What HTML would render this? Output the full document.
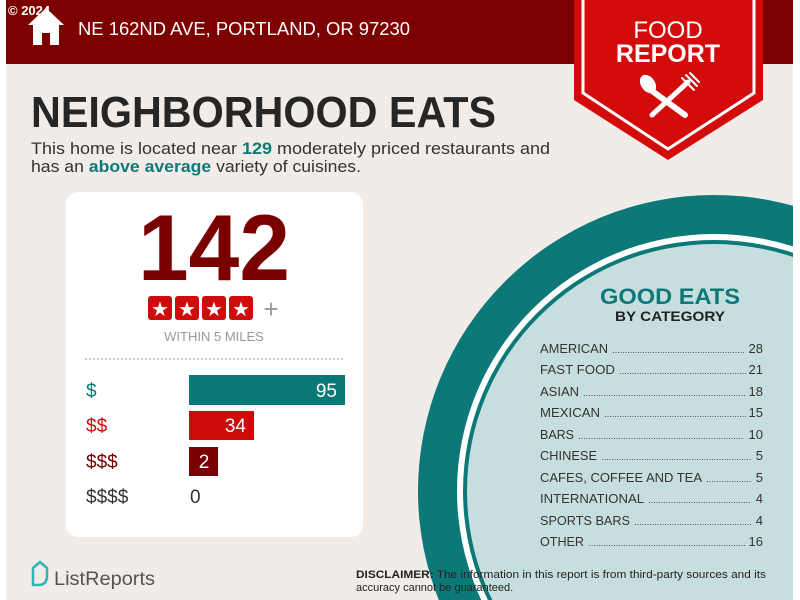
<!DOCTYPE html>
<html><head><meta charset="utf-8"><style>
html,body{margin:0;padding:0;background:#fff;width:800px;height:600px;overflow:hidden}
svg{display:block}
text{font-family:"Liberation Sans",sans-serif}
</style></head><body>
<svg width="800" height="600" viewBox="0 0 800 600" xmlns="http://www.w3.org/2000/svg">
<defs><clipPath id="c"><rect x="6" y="0" width="787" height="600"/></clipPath></defs>
<rect x="6" y="0" width="787" height="600" fill="#f1ece8"/>
<rect x="6" y="0" width="787" height="64" fill="#7d0000"/>
<g clip-path="url(#c)">
<circle cx="714" cy="491" r="296" fill="#0d7878"/>
<circle cx="714" cy="491" r="257" fill="#fff"/>
<circle cx="714" cy="491" r="251" fill="#0d7878"/>
<circle cx="714" cy="491" r="247" fill="#c6dfde"/>
</g>
<!-- header -->
<text x="8" y="15" fill="#fff" font-size="13" font-weight="bold">© 2024</text>
<path d="M46 8 L28 25 L33 25 L33 45 L59 45 L59 25 L64 25 Z" fill="#fff"/>
<rect x="42" y="33" width="8" height="12" fill="#7d0000"/>
<text x="78" y="35" fill="#fff" font-size="18" textLength="332" lengthAdjust="spacingAndGlyphs">NE 162ND AVE, PORTLAND, OR 97230</text>
<!-- ribbon -->
<polygon points="574,0 763,0 763,100 668,160 574,100" fill="#d40b0b"/>
<polyline points="583,0 583,93 668,149 754,93 754,0" fill="none" stroke="#fff" stroke-width="3"/>
<text x="668" y="38" fill="#fff" font-size="24" text-anchor="middle">FOOD</text>
<text x="668" y="62" fill="#fff" font-size="25" font-weight="bold" text-anchor="middle">REPORT</text>
<g stroke="#fff" stroke-linecap="round" fill="#fff">
<line x1="648" y1="88" x2="685" y2="115" stroke-width="6"/>
<ellipse cx="648" cy="84" rx="7" ry="10" transform="rotate(-35 648 84)" stroke="none"/>
<line x1="688" y1="82" x2="652" y2="115" stroke-width="5"/>
<path d="M682 78 L694 90 M686 75 L697 86 M690 73 L699 82" stroke-width="2"/>
</g>
<!-- title -->
<text x="31" y="127" fill="#262626" font-size="44" font-weight="bold" textLength="465" lengthAdjust="spacingAndGlyphs">NEIGHBORHOOD EATS</text>
<text x="31" y="154" fill="#333" font-size="17" textLength="519" lengthAdjust="spacingAndGlyphs">This home is located near <tspan fill="#0d7a7a" font-weight="bold">129</tspan> moderately priced restaurants and</text>
<text x="31" y="172" fill="#333" font-size="17" textLength="330" lengthAdjust="spacingAndGlyphs">has an <tspan fill="#0d7a7a" font-weight="bold">above average</tspan> variety of cuisines.</text>
<!-- card -->
<rect x="66" y="192" width="297" height="345" rx="12" fill="#fff"/>
<text x="214" y="280" fill="#7a0000" font-size="94" font-weight="bold" text-anchor="middle" textLength="152" lengthAdjust="spacingAndGlyphs">142</text>
<g fill="#d00b0b">
<rect x="148" y="296" width="24" height="24" rx="3"/><rect x="175" y="296" width="24" height="24" rx="3"/><rect x="202" y="296" width="24" height="24" rx="3"/><rect x="229" y="296" width="24" height="24" rx="3"/>
</g>
<g fill="#fff" font-size="20" text-anchor="middle"><text x="160" y="316">★</text><text x="187" y="316">★</text><text x="214" y="316">★</text><text x="241" y="316">★</text></g>
<text x="271" y="318" fill="#999" font-size="26" text-anchor="middle">+</text>
<text x="214" y="341" fill="#999" font-size="13" text-anchor="middle">WITHIN 5 MILES</text>
<line x1="85" y1="359" x2="345" y2="359" stroke="#999" stroke-width="1" stroke-dasharray="2,2"/>
<rect x="189" y="375" width="156" height="30" fill="#0b7878"/>
<rect x="189" y="411" width="65" height="29" fill="#cc0a0a"/>
<rect x="189" y="447" width="29" height="29" fill="#780000"/>
<g font-size="19">
<text x="86" y="397" fill="#0b7878">$</text>
<text x="86" y="432" fill="#cc0a0a">$$</text>
<text x="86" y="468" fill="#780000">$$$</text>
<text x="86" y="503" fill="#333">$$$$</text>
<text x="337" y="397" fill="#fff" text-anchor="end">95</text>
<text x="246" y="432" fill="#fff" text-anchor="end">34</text>
<text x="204" y="468" fill="#fff" text-anchor="middle">2</text>
<text x="190" y="503" fill="#333">0</text>
</g>
<!-- good eats -->
<text x="670" y="304" fill="#0d7878" font-size="22" font-weight="bold" text-anchor="middle" textLength="140" lengthAdjust="spacingAndGlyphs">GOOD EATS</text>
<text x="670" y="321" fill="#222" font-size="14" font-weight="bold" text-anchor="middle" textLength="110" lengthAdjust="spacingAndGlyphs">BY CATEGORY</text>
<g font-size="13" fill="#333">
<text x="540" y="353" textLength="68" lengthAdjust="spacingAndGlyphs">AMERICAN</text><text x="763" y="353" text-anchor="end">28</text>
<text x="540" y="374" textLength="75" lengthAdjust="spacingAndGlyphs">FAST FOOD</text><text x="763" y="374" text-anchor="end">21</text>
<text x="540" y="396" textLength="39" lengthAdjust="spacingAndGlyphs">ASIAN</text><text x="763" y="396" text-anchor="end">18</text>
<text x="540" y="417" textLength="60" lengthAdjust="spacingAndGlyphs">MEXICAN</text><text x="763" y="417" text-anchor="end">15</text>
<text x="540" y="439" textLength="34" lengthAdjust="spacingAndGlyphs">BARS</text><text x="763" y="439" text-anchor="end">10</text>
<text x="540" y="460" textLength="57" lengthAdjust="spacingAndGlyphs">CHINESE</text><text x="763" y="460" text-anchor="end">5</text>
<text x="540" y="482" textLength="162" lengthAdjust="spacingAndGlyphs">CAFES, COFFEE AND TEA</text><text x="763" y="482" text-anchor="end">5</text>
<text x="540" y="503" textLength="104" lengthAdjust="spacingAndGlyphs">INTERNATIONAL</text><text x="763" y="503" text-anchor="end">4</text>
<text x="540" y="525" textLength="90" lengthAdjust="spacingAndGlyphs">SPORTS BARS</text><text x="763" y="525" text-anchor="end">4</text>
<text x="540" y="546" textLength="44" lengthAdjust="spacingAndGlyphs">OTHER</text><text x="763" y="546" text-anchor="end">16</text>
</g>
<g stroke="#555" stroke-width="1" stroke-dasharray="1,1.5">
<line x1="613" y1="352.5" x2="745" y2="352.5"/>
<line x1="620" y1="373.5" x2="746" y2="373.5"/>
<line x1="584" y1="395.5" x2="745" y2="395.5"/>
<line x1="605" y1="416.5" x2="746" y2="416.5"/>
<line x1="579" y1="438.5" x2="744" y2="438.5"/>
<line x1="602" y1="459.5" x2="751" y2="459.5"/>
<line x1="707" y1="481.5" x2="751" y2="481.5"/>
<line x1="649" y1="502.5" x2="751" y2="502.5"/>
<line x1="635" y1="524.5" x2="751" y2="524.5"/>
<line x1="589" y1="545.5" x2="745" y2="545.5"/>
</g>
<!-- footer -->
<path d="M33 576 L33 568 L40 562 L47 568 L47 576 Q47 585 38 585 L33 585 Z" fill="none" stroke="#2fb3b3" stroke-width="2.5"/>
<text x="54" y="585" fill="#555" font-size="19" textLength="101" lengthAdjust="spacingAndGlyphs">ListReports</text>
<text x="356" y="578" fill="#222" font-size="11" textLength="410" lengthAdjust="spacingAndGlyphs"><tspan font-weight="bold">DISCLAIMER:</tspan> The information in this report is from third-party sources and its</text>
<text x="356" y="591" fill="#222" font-size="11">accuracy cannot be guaranteed.</text>
</svg>
</body></html>
